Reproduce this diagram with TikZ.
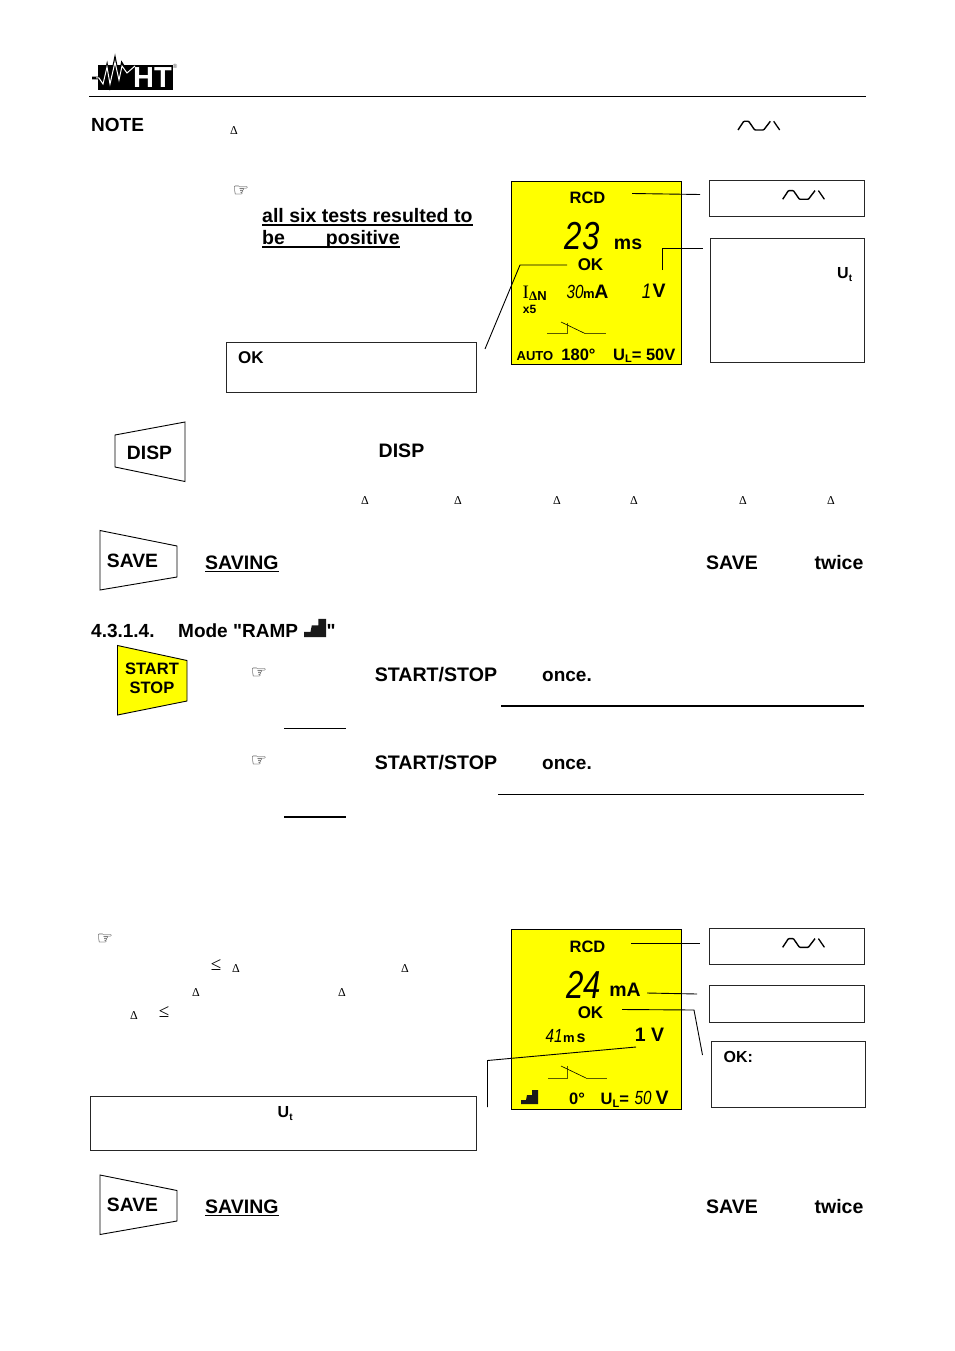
\documentclass[tikz,border=0pt]{standalone}
\usepackage{fontspec}
\setmainfont{Liberation Sans}
\newfontfamily\plainsans{Liberation Sans}
\newfontfamily\symfont{DejaVu Sans}
\newfontfamily\serfont{Liberation Serif}
\newcommand{\fs}[1]{\fontsize{#1}{#1}\selectfont}
\newcommand{\nar}[1]{\scalebox{.8}[1]{#1}}
\definecolor{lcdyellow}{RGB}{255,255,0}
\tikzset{
  x=1pt,y=-1pt,
  txt/.style={inner sep=0pt,anchor=base west,font=\fs{19}\bfseries,text=black},
  ctxt/.style={inner sep=0pt,anchor=base,font=\fs{19.500}\bfseries,text=black},
  lcdtxt/.style={ctxt,font=\fs{16.5}\bfseries},
  seg/.style={inner sep=0pt,anchor=base,font=\fs{#1}\itshape,text=black},
  delta/.style={inner sep=0pt,font=\fs{12}\serfont,text=black},
  hand/.style={inner sep=0pt,font=\fs{18}\symfont,text=black},
  leq/.style={inner sep=0pt,font=\fs{19}\serfont,text=black},
  infobox/.style={draw=black!85,line width=0.9pt,fill=white},
  lcd/.style={draw=black,line width=0.9pt,fill=lcdyellow},
  keyb/.style={draw=black,line width=0.9pt},
  conn/.style={draw=black,line width=0.9pt},
  uline/.style={draw=black,line width=1.4pt},
  sw/.style={draw=black!65!lcdyellow,line width=0.8pt},
  pics/wave/.style={code={
    \draw[black,line width=1.4pt,rounded corners=0.8pt] (0,0)--(5.7,-8.7)--(10.7,-8.7)--(16.7,0)--(25.7,0)--(32.3,-8.7);
    \draw[black,line width=1.3pt] (35.7,-8.7)--(41.7,0);}},
  pics/stairs/.style={code={
    \fill[black!90] (0,0)--(0,-4)--(5,-4)--(6,-9)--(11,-9)--(11,-14)--(17,-14)--(17,0)--cycle;}},
}
\begin{document}
\begin{tikzpicture}
\useasboundingbox (0,0) rectangle (954,1351);
\fill[white] (0,0) rectangle (954,1351);
% logo
\fill[black] (98,65) rectangle (173,90);
\draw[black,line width=2.6pt,line join=miter] (92,78)--(99,78)--(103,84)--(107,67)--(110,84)--(115,60)--(119,80)--(122,64)--(127,72)--(135,66);
\draw[white,line width=1pt] (96,78)--(99,78)--(103,84)--(107,67)--(110,84)--(115,62)--(119,80)--(122,66)--(127,73)--(135,66);
\node[txt,text=white,font=\fs{29}\bfseries] (logoht) at (133,88) {HT};
\node[inner sep=0pt,font=\fs{6},text=black!70] (logor) at (175,66) {®};
\draw[black,line width=0.9pt] (89,96.500)--(866,96.500);
% note
\node[txt] (note) at (91,132) {NOTE};
\node[delta] (d0) at (234,131) {Δ};
\pic at (738,130) {wave};
\node[hand] (h0) at (241,191) {☞};
\node[txt,font=\fs{19.500}\bfseries] (six1) at (262,222.500) {all six tests resulted to};
\draw[uline] ([yshift=-2.500pt]six1.base west)--([yshift=-2.500pt]six1.base east);
\node[txt,font=\fs{19.500}\bfseries] (six2) at (262,244.500) {be\hspace{41pt}positive};
\draw[uline] ([yshift=-2.500pt]six2.base west)--([yshift=-2.500pt]six2.base east);
% LCD 1
\draw[lcd] (511,181.500) rectangle (681.500,364.500);
\node[lcdtxt] (rcda) at (587.500,204) {RCD};
\node[seg=39] (d23) at (582,249.500) {\nar{23}};
\node[ctxt] (ms) at (628,249.500) {ms};
\node[ctxt,font=\fs{17}\bfseries] (oka) at (590.500,270) {OK};
\node[txt,font=\fs{19}\serfont] (ia) at (522.500,298) {I};
\node[txt,font=\fs{13}\bfseries] (ianb) at (529,300) {{\serfont Δ}N};
\node[ctxt,font=\fs{12}\bfseries] (x5) at (529.500,313) {x5};
\node[seg=19] (m30) at (575,298) {\nar{30}};
\node[ctxt,font=\fs{13}\bfseries] (ma) at (589,298) {m};
\node[ctxt] (aa) at (601.500,298) {A};
\node[seg=21] (v1a) at (646.500,298) {\nar{1}};
\node[ctxt] (vva) at (659,297.500) {V};
\draw[sw] (547,333.500)--(567,333.500)--(567,323);
\draw[sw] (585,333.500)--(606,333.500);
\draw[black,line width=0.6pt] (561,322)--(585,333.500);
\node[ctxt,font=\fs{13}\bfseries] (auto) at (535,360) {AUTO};
\node[lcdtxt] (deg) at (578.500,360) {180°};
\node[txt,font=\fs{16.500}\bfseries] (ula) at (613,360) {U\raisebox{-2.5pt}{\fs{11}L}= 50V};
% info boxes page top
\draw[infobox] (709,180) rectangle (864.500,216.500);
\pic at (782.700,199.300) {wave};
\draw[infobox] (710,238) rectangle (864.500,362.500);
\node[txt,font=\fs{16}\bfseries] (uta) at (837,278.500) {U\raisebox{-2.5pt}{\fs{10}t}};
\draw[infobox] (226,342.500) rectangle (476.500,392.500);
\node[txt,font=\fs{17}\bfseries] (okb) at (238,363) {OK};
% connectors
\coordinate (c1a) at (632,193.500); \coordinate (c1b) at (700,194.500);
\draw[conn] (c1a)--(c1b);
\coordinate (c2a) at (662.500,270); \coordinate (c2b) at (662.500,248); \coordinate (c2c) at (703,248);
\draw[conn] (c2a)--(c2b)--(c2c);
\coordinate (c3a) at (567,265); \coordinate (c3b) at (520,265); \coordinate (c3c) at (485,349);
\draw[conn] (c3a)--(c3b)--(c3c);
% DISP
\draw[keyb] (115,435)--(185,422)--(185,481.500)--(115,467)--cycle;
\node[ctxt,font=\fs{19.300}\bfseries] (dispk) at (149.500,459) {DISP};
\node[ctxt] (disp) at (401.500,457) {DISP};
\foreach \n/\x in {a/365,b/458,c/557,d/634,e/743,f/831}{\node[delta] (dd\n) at (\x,501) {Δ};}
% SAVE 1
\draw[keyb] (100,530.500)--(177,546)--(177,577)--(100,590)--cycle;
\node[ctxt,font=\fs{19.300}\bfseries] (savek) at (132.500,567) {SAVE};
\node[txt,font=\fs{19.500}\bfseries] (saving) at (205,569) {SAVING};
\draw[uline] ([yshift=-2.500pt]saving.base west)--([yshift=-2.500pt]saving.base east);
\node[ctxt] (save) at (732,569) {SAVE};
\node[ctxt] (twice) at (839,569) {twice};
% heading
\node[txt] (sec) at (91,637) {4.3.1.4.};
\node[txt] (mode) at (178,637) {Mode {\plainsans\bfseries "}RAMP};
\pic at (304,637) [xscale=1.3,yscale=1.3] {stairs};
\node[txt] (q) at (326.500,637) {\plainsans\bfseries "};
% START
\draw[keyb,fill=lcdyellow] (117.500,645.500)--(187,660.500)--(187,701)--(117.500,715)--cycle;
\node[ctxt,font=\fs{16.500}\bfseries] (st1) at (152,674.500) {START};
\node[ctxt,font=\fs{16.500}\bfseries] (st2) at (152,693) {STOP};
\node[hand] (h1) at (259,673.500) {☞};
\node[ctxt,font=\fs{19.600}\bfseries] (ss1) at (436,681) {START/STOP};
\node[ctxt,font=\fs{19}\bfseries] (on1) at (567,681) {once.};
\draw[black,line width=1.4pt] (501,706)--(864,706);
\draw[black,line width=0.7pt] (284,728.500)--(346,728.500);
\node[hand] (h2) at (259,761.500) {☞};
\node[ctxt,font=\fs{19.600}\bfseries] (ss2) at (436,769) {START/STOP};
\node[ctxt,font=\fs{19}\bfseries] (on2) at (567,769) {once.};
\draw[black,line width=0.7pt] (498,794.500)--(864,794.500);
\draw[black,line width=1.4pt] (284,817)--(346,817);
% lower text
\node[hand] (h3) at (105,939.500) {☞};
\node[leq] (le1) at (216,965) {≤};
\node[delta] (d1) at (236,969) {Δ};
\node[delta] (d2) at (405,969) {Δ};
\node[delta] (d3) at (196,993) {Δ};
\node[delta] (d4) at (342,993) {Δ};
\node[delta] (d5) at (134,1016) {Δ};
\node[leq] (le2) at (164,1012) {≤};
% LCD 2
\draw[lcd] (511,929.500) rectangle (681.500,1109.500);
\node[lcdtxt] (rcdb) at (587.500,952) {RCD};
\node[seg=39] (d24) at (583.500,998) {\nar{24}};
\node[ctxt] (mab) at (625,996) {mA};
\node[ctxt,font=\fs{17}\bfseries] (okc) at (590.500,1018) {OK};
\node[seg=19] (m41) at (554,1042) {\nar{41}};
\node[ctxt,font=\fs{13}\bfseries] (msm) at (569,1042) {m};
\node[ctxt,font=\fs{16}\bfseries] (mss) at (581,1042) {s};
\node[ctxt] (v1b) at (649.500,1041) {1 V};
\draw[sw] (548,1078)--(567,1078)--(567,1066);
\draw[sw] (586,1078)--(607,1078);
\draw[black,line width=0.6pt] (561,1066)--(586,1078);
\pic at (521,1104) {stairs};
\node[lcdtxt] (degb) at (577,1104.500) {0°};
\node[txt,font=\fs{16.500}\bfseries] (ulb) at (600.500,1104.500) {U\raisebox{-2.5pt}{\fs{11}L}=};
\node[seg=19] (f50) at (643,1104.500) {\nar{50}};
\node[ctxt] (vb) at (662,1104.500) {V};
% lower boxes
\draw[infobox] (709,928) rectangle (864.500,964.500);
\pic at (782.700,947.300) {wave};
\draw[infobox] (709,985) rectangle (864.500,1022);
\draw[infobox] (711.500,1041.500) rectangle (865,1107.500);
\node[txt,font=\fs{16}\bfseries] (okd) at (723.500,1062) {OK:};
\draw[infobox] (90,1096.500) rectangle (476.500,1150);
\node[txt,font=\fs{16}\bfseries] (utb) at (277.500,1117.500) {U\raisebox{-2.5pt}{\fs{10}t}};
\coordinate (c4a) at (631,943); \coordinate (c4b) at (700,943);
\draw[conn] (c4a)--(c4b);
\coordinate (c5a) at (647,993); \coordinate (c5b) at (697,994);
\draw[conn] (c5a)--(c5b);
\coordinate (c6a) at (622,1009.500); \coordinate (c6b) at (694,1010); \coordinate (c6c) at (702.500,1055);
\draw[conn] (c6a)--(c6b)--(c6c);
\coordinate (c7a) at (636,1047); \coordinate (c7b) at (487.500,1060.500); \coordinate (c7c) at (487.500,1107);
\draw[conn] (c7a)--(c7b)--(c7c);
% SAVE 2
\draw[keyb] (100,1175)--(177,1190.500)--(177,1221)--(100,1234.500)--cycle;
\node[ctxt,font=\fs{19.300}\bfseries] (savek2) at (132.500,1211) {SAVE};
\node[txt,font=\fs{19.500}\bfseries] (saving2) at (205,1213) {SAVING};
\draw[uline] ([yshift=-2.500pt]saving2.base west)--([yshift=-2.500pt]saving2.base east);
\node[ctxt] (save2) at (732,1213) {SAVE};
\node[ctxt] (twice2) at (839,1213) {twice};
\end{tikzpicture}
\end{document}
